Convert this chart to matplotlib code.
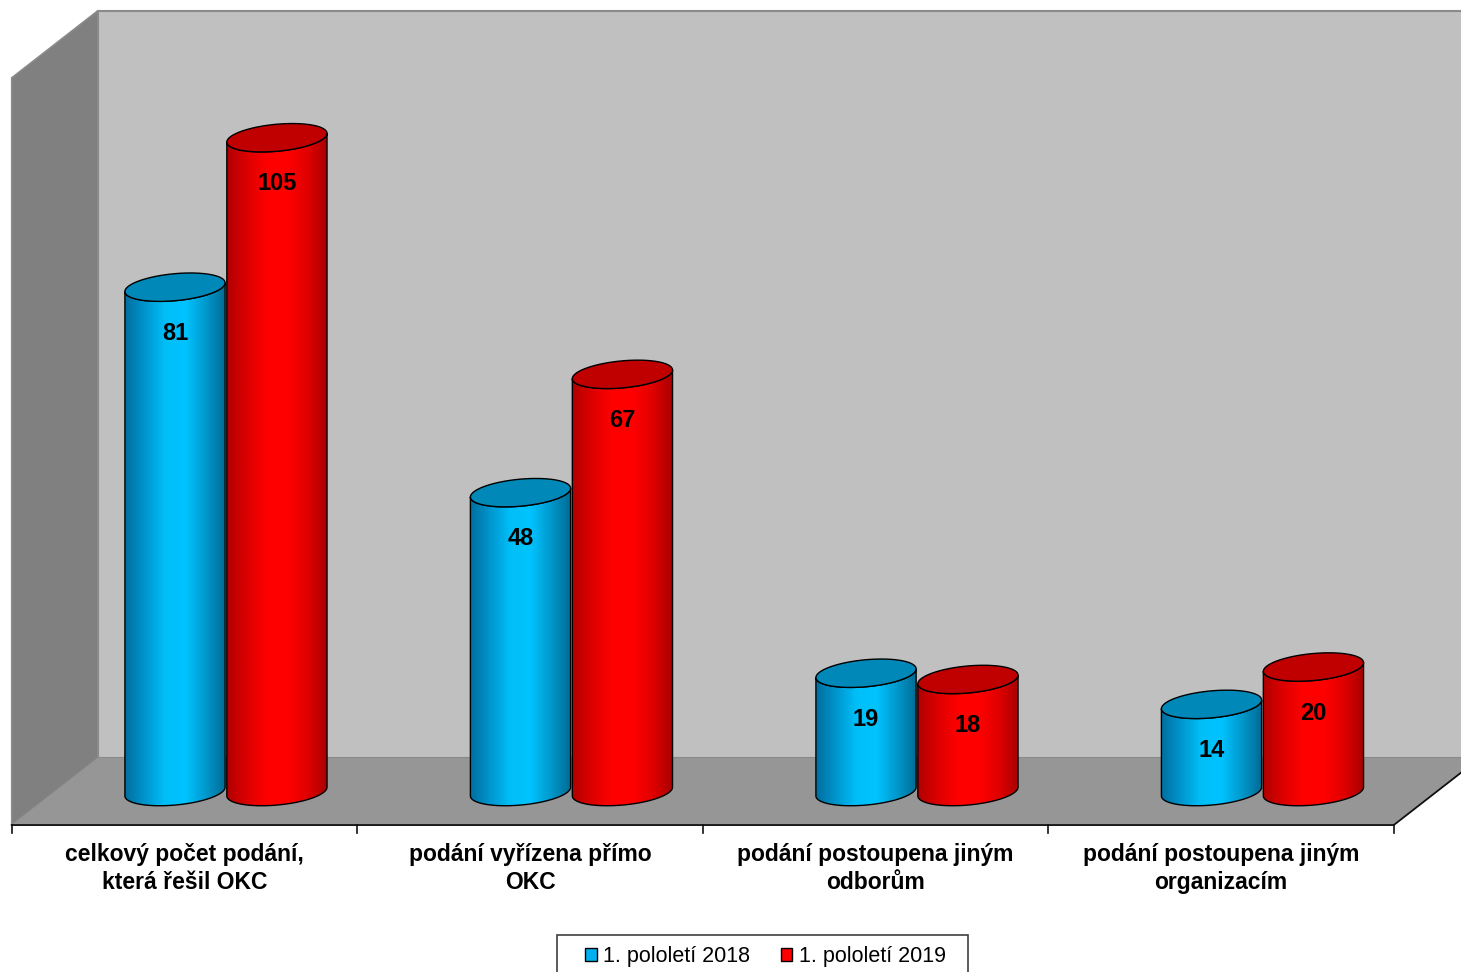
import numpy as np
import matplotlib
matplotlib.use("Agg")
import matplotlib.pyplot as plt
from matplotlib.patches import Polygon, Patch, Rectangle
from matplotlib.colors import LinearSegmentedColormap

plt.rcParams['font.family'] = ['Liberation Sans', 'DejaVu Sans']

## data
categories = ["celkový počet podání,\nkterá řešil OKC",
              "podání vyřízena přímo\nOKC",
              "podání postoupena jiným\nodborům",
              "podání postoupena jiným\norganizacím"]
series_names = ["1. pololetí 2018", "1. pololetí 2019"]
values_2018 = [81, 48, 19, 14]
values_2019 = [105, 67, 18, 20]
y_max = 120

## 3d look (x in category units, y in value units)
DX, DY = 0.249, 10.76        # depth of the box
R = 0.145                    # cylinder radius
B = 2.17                     # ellipse half height
S = 0.7                      # tilt of ellipses
offsets = [-0.152, 0.143]

blue_cmap = LinearSegmentedColormap.from_list(
    "b", ["#006e9e", "#0096cf", "#00bff8", "#00c3ff", "#0099cc", "#006a94"])
red_cmap = LinearSegmentedColormap.from_list(
    "r", ["#b00000", "#dd0000", "#ff0000", "#ff0000", "#e00000", "#a80000"])
cmaps = [blue_cmap, red_cmap]
top_colors = ["#0088b8", "#c00000"]
legend_colors = ["#00b0f0", "#ff0000"]

fig = plt.figure(figsize=(14.61, 9.72), dpi=100)
ax = fig.add_axes([0, 0, 1, 1])
ax.set_axis_off()
xlim = (-0.534, 3.6946)
ylim = (-23.6, 132.5)

n = len(categories)
x0, x1 = -0.5, n - 0.5

# side wall, back wall, floor
ax.add_patch(Polygon([(x0, 0), (x0, y_max), (x0 + DX, y_max + DY), (x0 + DX, DY)],
                     closed=True, fc="#808080", ec="#8a8a8a", lw=1.2, zorder=1))
ax.add_patch(Polygon([(x0 + DX, DY), (x0 + DX, y_max + DY), (x1 + DX, y_max + DY), (x1 + DX, DY)],
                     closed=True, fc="#c0c0c0", ec="#8a8a8a", lw=1.5, zorder=1))
ax.add_patch(Polygon([(x0, 0), (x1, 0), (x1 + DX, DY), (x0 + DX, DY)],
                     closed=True, fc="#969696", ec="none", zorder=2))
ax.plot([x0, x1, x1 + DX], [0, 0, DY], color="#101010", lw=1.3, zorder=3)
for t in np.arange(x0, x1 + 0.01, 1.0):
    ax.plot([t, t], [0, -1.2], color="#101010", lw=1.2, zorder=3)


def arc(cx, cy, t):
    return np.column_stack([cx + R * np.cos(t), cy + B * np.sin(t) + S * np.cos(t)])


def cylinder(cx, val, cmap, top_color, z):
    base = DY / 2
    top = base + val
    t = np.linspace(np.pi, 2 * np.pi, 60)
    body = np.vstack([arc(cx, base, t), arc(cx, top, t[::-1])])
    poly = Polygon(body, closed=True, fc="none", ec="#000000", lw=1.0, zorder=z + 0.2)
    ax.add_patch(poly)
    grad = np.linspace(0, 1, 256).reshape(1, -1)
    im = ax.imshow(grad, cmap=cmap, aspect="auto", zorder=z,
                   extent=(cx - R, cx + R, base - B - S, top + B + S))
    clip = Polygon(body, closed=True, fc="none", ec="none", transform=ax.transData)
    ax.add_patch(clip)
    im.set_clip_path(clip)
    tt = np.linspace(0, 2 * np.pi, 120)
    ax.add_patch(Polygon(arc(cx, top, tt), closed=True, fc=top_color, ec="#000000",
                         lw=1.0, zorder=z + 0.3))
    ax.text(cx, top - 7.4, str(val), ha="center", va="center", fontsize=17,
            fontweight="bold", color="#000000", zorder=z + 0.5)


for i in range(n):
    for k, vals in enumerate([values_2018, values_2019]):
        cx = i + DX / 2 + offsets[k]
        cylinder(cx, vals[i], cmaps[k], top_colors[k], 10 + 2 * i + k)
    ax.text(i, -2.9, categories[i], ha="center", va="top", fontsize=16.5,
            fontweight="bold", linespacing=1.25, zorder=5)

ax.set_xlim(*xlim)
ax.set_ylim(*ylim)

# legend
fig.patches.append(Rectangle((557 / 1461, -0.02), 411 / 1461, 0.02 + 37 / 972,
                             transform=fig.transFigure, fc="white", ec="#404040", lw=1.2))
handles = [Patch(fc=c, ec="#000000", lw=1.0) for c in legend_colors]
fig.legend(handles, series_names, loc="center", bbox_to_anchor=(0.524, 0.016),
           ncol=2, frameon=False, fontsize=15.5, handlelength=0.55, handleheight=0.55,
           handletextpad=0.3, columnspacing=1.4)

fig.savefig("out.png", dpi=100)
